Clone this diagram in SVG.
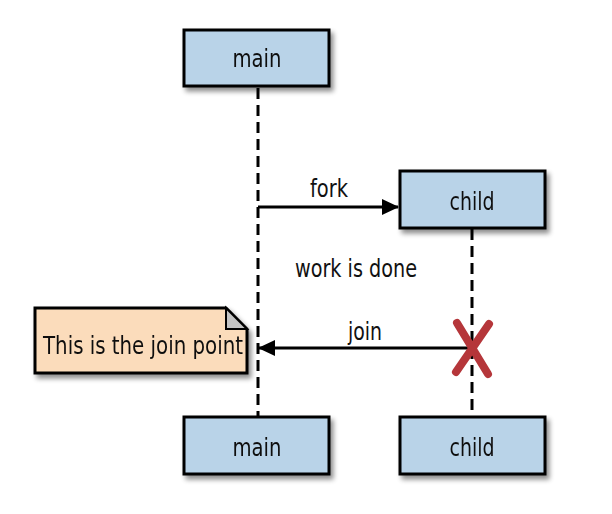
<svg xmlns="http://www.w3.org/2000/svg" width="612" height="514" viewBox="0 0 612 514">
  <defs>
    <filter id="shadow" x="-10%" y="-20%" width="130%" height="160%">
      <feGaussianBlur in="SourceAlpha" stdDeviation="2.5"/>
      <feOffset dx="3" dy="4" result="b"/>
      <feComponentTransfer><feFuncA type="linear" slope="0.45"/></feComponentTransfer>
      <feMerge><feMergeNode/><feMergeNode in="SourceGraphic"/></feMerge>
    </filter>
    <marker id="head" markerWidth="17" markerHeight="16" refX="16" refY="8" orient="auto" markerUnits="userSpaceOnUse">
      <path d="M0,0 L17,8 L0,16 Z" fill="#000"/>
    </marker>
  </defs>
  <style>
    .box { fill: #b9d3e8; stroke: #000; stroke-width: 3; }
    .lbl { font-family: "DejaVu Sans Condensed", "Liberation Sans", sans-serif; font-size: 24px; fill: #111; text-anchor: middle; }
    .life { stroke: #000; stroke-width: 3; stroke-dasharray: 11 6; fill: none; }
    .msg { stroke: #000; stroke-width: 3; fill: none; }
  </style>
  <rect width="612" height="514" fill="#fff"/>

  <!-- lifelines and messages -->
  <g id="connectors">
    <line class="life" x1="258" y1="88" x2="258" y2="416"/>
    <line class="life" x1="472" y1="229" x2="472" y2="416"/>
    <line class="msg" x1="258" y1="207" x2="398" y2="207" marker-end="url(#head)"/>
    <text class="lbl" x="329" y="197" textLength="38" lengthAdjust="spacingAndGlyphs">fork</text>
    <line class="msg" x1="470" y1="348" x2="259" y2="348" marker-end="url(#head)"/>
    <text class="lbl" x="365" y="340" textLength="34" lengthAdjust="spacingAndGlyphs">join</text>
  </g>

  <text class="lbl" x="356" y="277" textLength="122" lengthAdjust="spacingAndGlyphs">work is done</text>

  <g id="main-top" filter="url(#shadow)">
    <rect class="box" x="184" y="30" width="145" height="56"/>
    <text class="lbl" x="257" y="67" textLength="49" lengthAdjust="spacingAndGlyphs">main</text>
  </g>

  <g id="child-top" filter="url(#shadow)">
    <rect class="box" x="400" y="171" width="145" height="57"/>
    <text class="lbl" x="472" y="210" textLength="45" lengthAdjust="spacingAndGlyphs">child</text>
  </g>

  <g id="note" filter="url(#shadow)">
    <path d="M35,308 L226,308 L247,329 L247,373 L35,373 Z" fill="#fbdcbb" stroke="#000" stroke-width="3"/>
    <path d="M226,308 L226,329 L247,329 Z" fill="#c4c4c4" stroke="#000" stroke-width="2"/>
    <text class="lbl" x="143" y="354" textLength="200" lengthAdjust="spacingAndGlyphs">This is the join point</text>
  </g>

  <g id="destroy">
    <path d="M457,323 L488,374 M489,324 L456,372" stroke="#b5363a" stroke-width="8" stroke-linecap="round" fill="none"/>
  </g>

  <g id="main-bottom" filter="url(#shadow)">
    <rect class="box" x="184" y="417" width="145" height="57"/>
    <text class="lbl" x="257" y="456" textLength="49" lengthAdjust="spacingAndGlyphs">main</text>
  </g>

  <g id="child-bottom" filter="url(#shadow)">
    <rect class="box" x="400" y="417" width="145" height="57"/>
    <text class="lbl" x="472" y="456" textLength="45" lengthAdjust="spacingAndGlyphs">child</text>
  </g>
</svg>
